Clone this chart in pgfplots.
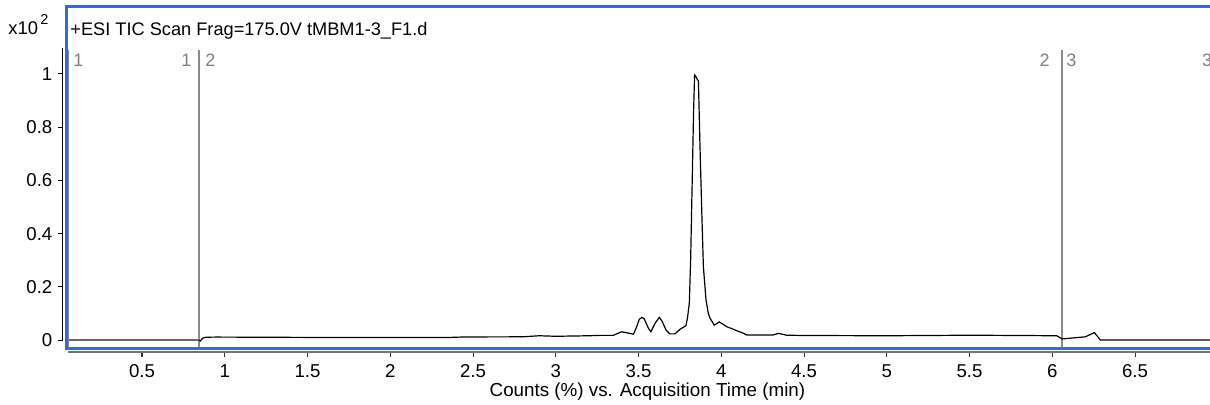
\documentclass[border=0pt]{standalone}
\usepackage{fontspec}
\setmainfont{Liberation Sans}
\usepackage{pgfplots}
\pgfplotsset{compat=1.18}
\definecolor{frameblue}{RGB}{56,108,200}
\definecolor{markgray}{RGB}{138,138,138}
\definecolor{labelgray}{RGB}{128,128,128}

\begin{document}
\begin{tikzpicture}
\begin{axis}[
  at={(0,0)}, anchor=south west,
  scale only axis, width=573.5pt, height=152pt,
  xmin=0.02266, xmax=6.9532, ymin=-0.04511, ymax=1.0977,
  clip=false,
  axis lines*=left, axis line style={draw=none},
  xtick={0.5,1,1.5,2,2.5,3,3.5,4,4.5,5,5.5,6,6.5},
  ytick={0,0.2,0.4,0.6,0.8,1},
  tick align=outside, major tick length=2.6pt,
  major tick style={line width=0.5pt},
  x tick style={black!80},
  y tick style={black},
  /pgf/number format/fixed,
  /pgf/number format/assume math mode=true,
  ticklabel style={font=\fontsize{9.3}{11}\selectfont, black},
  yticklabel style={xshift=0.8pt},
]
% axis lines
\draw[black, line width=0.5pt] (axis cs:0.02266,0) -- (axis cs:0.02266,1.0977);
\draw[black!55, line width=0.6pt] (axis cs:0.0528,-0.04511) -- (axis cs:6.9532,-0.04511);

% segment boundaries
\addplot[markgray, line width=0.75pt] coordinates {(0.0571,1.0902) (0.0571,-0.026)};
\addplot[markgray, line width=0.75pt] coordinates {(0.8444,1.0902) (0.8444,-0.026)};
\addplot[markgray, line width=0.75pt] coordinates {(6.059,1.0902) (6.059,-0.026)};

% TIC trace
\addplot[black!60, line width=0.6pt] coordinates {(0.0571,0) (0.845,0)};
\addplot[black, line width=0.6pt] coordinates {
(0.845,0) (0.852,-0.004) (0.865,0.006) (0.885,0.0105) (0.95,0.011)
(1.2,0.0105) (1.6,0.0095) (2.0,0.0095) (2.35,0.0095) (2.45,0.0115)
(2.8,0.012) (2.9,0.016) (3.0,0.014) (3.2,0.016) (3.27,0.0175)
(3.347,0.0175) (3.398,0.031) (3.47,0.022) (3.489,0.05) (3.505,0.078)
(3.52,0.085) (3.534,0.08) (3.56,0.044) (3.575,0.031) (3.6,0.063)
(3.626,0.085) (3.642,0.071) (3.666,0.038) (3.69,0.023) (3.72,0.023)
(3.75,0.04) (3.787,0.054) (3.797,0.088) (3.807,0.138) (3.815,0.3)
(3.825,0.614) (3.833,0.865) (3.839,0.996) (3.847,0.99) (3.855,0.98)
(3.862,0.975) (3.871,0.74) (3.882,0.489) (3.892,0.276) (3.908,0.15)
(3.922,0.1) (3.932,0.082) (3.958,0.056) (3.988,0.068) (4.033,0.05)
(4.063,0.043) (4.093,0.035) (4.124,0.028) (4.154,0.019) (4.234,0.019)
(4.315,0.019) (4.345,0.025) (4.395,0.018) (4.5,0.017) (5.0,0.016)
(5.5,0.018) (5.8,0.017) (6.027,0.016) (6.06,0.004) (6.2,0.012)
(6.255,0.028) (6.29,0.0) (6.9532,0.0)
};

% frame
\draw[frameblue, line width=1.6pt] (axis cs:6.9532,1.2530) -- (axis cs:0.0426,1.2530)
  -- (axis cs:0.0426,-0.03195) -- (axis cs:6.9532,-0.03195);

% segment labels
\begin{scope}[every node/.style={inner sep=0pt, text=labelgray, font=\fontsize{9}{11}\selectfont}]
\node[anchor=base west] at (axis cs:0.0831,1.030) {1};
\node[anchor=base east] at (axis cs:0.8003,1.030) {1};
\node[anchor=base west] at (axis cs:0.8807,1.030) {2};
\node[anchor=base east] at (axis cs:5.9864,1.030) {2};
\node[anchor=base west] at (axis cs:6.0831,1.030) {3};
\node[anchor=base west] at (axis cs:6.9033,1.030) {3};
\end{scope}

% title, scale factor and axis label
\node[anchor=base west, inner sep=0pt, font=\fontsize{9.1}{11}\selectfont] at (axis cs:0.065,1.1455)
  {+ESI TIC Scan Frag=175.0V tMBM1-3\_F1.d};
\node[anchor=base west, inner sep=0pt, font=\fontsize{9.2}{11}\selectfont] at (axis cs:-0.3097,1.1466)
  {x10\hspace{1.2pt}\raisebox{5pt}{\fontsize{7.2}{8}\selectfont 2}};
\node[anchor=base, inner sep=0pt, font=\fontsize{9.4}{11}\selectfont] at (axis cs:3.554,-0.2132)
  {Counts (\%) vs. Acquisition Time (min)};
\end{axis}
\pgfresetboundingbox
\path[use as bounding box] (-31.5pt,-26pt) rectangle (573.5pt,176pt);
\end{tikzpicture}
\end{document}
